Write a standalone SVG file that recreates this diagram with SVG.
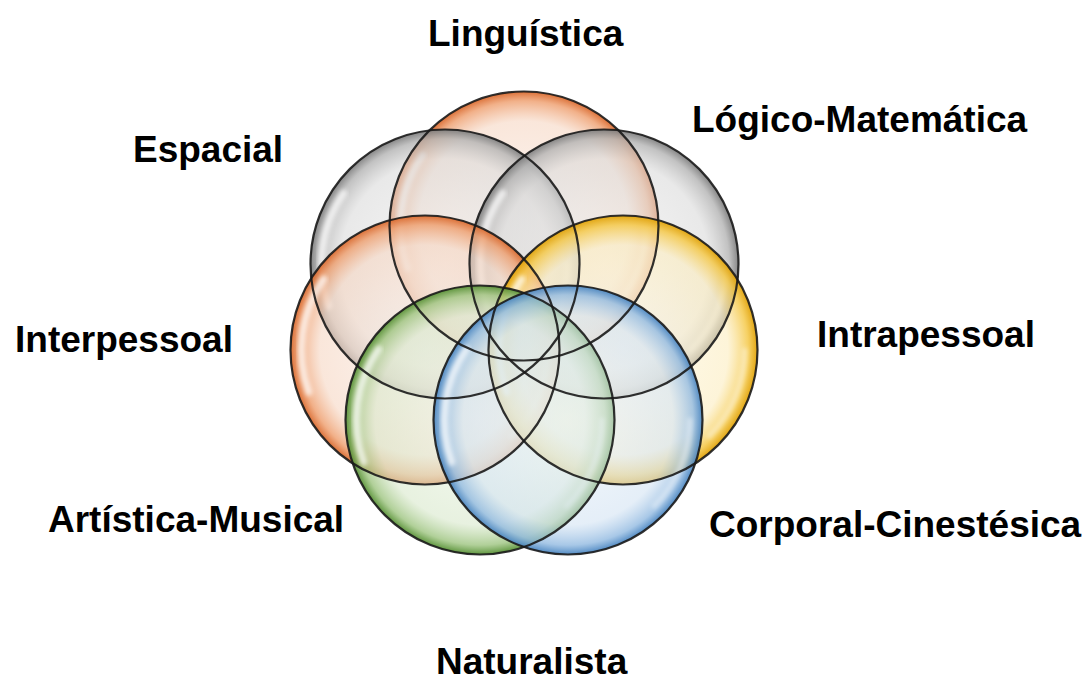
<svg xmlns="http://www.w3.org/2000/svg" width="1088" height="680" viewBox="0 0 1088 680">
  <style>
    .lbl { font-family: "Liberation Sans", Arial, sans-serif; font-weight: bold; font-size: 37px; fill: #000; }
    .ring { stroke: none; }
    .edge { fill: none; stroke: #1a1a1a; stroke-width: 2.2; stroke-opacity: 0.9; }
    .hl { fill: none; stroke: #ffffff; stroke-linecap: round; filter: url(#blur); }
    .hl1 { stroke-width: 7; stroke-opacity: 0.7; }
    .hl2 { stroke-width: 5; stroke-opacity: 0.45; }
  </style>
  <defs>
    <filter id="blur" x="-20%" y="-20%" width="140%" height="140%">
      <feGaussianBlur stdDeviation="2"/>
    </filter>
    <radialGradient id="gOrange" cx="0.5" cy="0.5" r="0.5">
      <stop offset="0" stop-color="#FBEEE6" stop-opacity="0.55"/>
      <stop offset="0.78" stop-color="#F6D6C2" stop-opacity="0.6"/>
      <stop offset="0.93" stop-color="#EE9D6C" stop-opacity="0.8"/>
      <stop offset="1" stop-color="#D9682C" stop-opacity="0.95"/>
    </radialGradient>
    <radialGradient id="gGray" cx="0.5" cy="0.5" r="0.5">
      <stop offset="0" stop-color="#EFEFEF" stop-opacity="0.55"/>
      <stop offset="0.78" stop-color="#DADADA" stop-opacity="0.6"/>
      <stop offset="0.93" stop-color="#B3B3B3" stop-opacity="0.8"/>
      <stop offset="1" stop-color="#7E7E7E" stop-opacity="0.95"/>
    </radialGradient>
    <radialGradient id="gYellow" cx="0.5" cy="0.5" r="0.5">
      <stop offset="0" stop-color="#FFF7E2" stop-opacity="0.55"/>
      <stop offset="0.78" stop-color="#FCEDBF" stop-opacity="0.6"/>
      <stop offset="0.93" stop-color="#F5C94A" stop-opacity="0.85"/>
      <stop offset="1" stop-color="#E0A106" stop-opacity="0.95"/>
    </radialGradient>
    <radialGradient id="gGreen" cx="0.5" cy="0.5" r="0.5">
      <stop offset="0" stop-color="#EFF6E9" stop-opacity="0.55"/>
      <stop offset="0.78" stop-color="#D8E8CB" stop-opacity="0.6"/>
      <stop offset="0.93" stop-color="#9DC47F" stop-opacity="0.8"/>
      <stop offset="1" stop-color="#558F33" stop-opacity="0.95"/>
    </radialGradient>
    <radialGradient id="gBlue" cx="0.5" cy="0.5" r="0.5">
      <stop offset="0" stop-color="#ECF3FA" stop-opacity="0.55"/>
      <stop offset="0.78" stop-color="#D3E3F3" stop-opacity="0.6"/>
      <stop offset="0.93" stop-color="#92BAE1" stop-opacity="0.8"/>
      <stop offset="1" stop-color="#4884C0" stop-opacity="0.95"/>
    </radialGradient>
    <path id="hlA" d="M -116.2 42.3 A 123.7 123.7 0 0 1 -101.3 -70.9"/>
    <path id="hlB" d="M 122 0 A 122 122 0 0 1 86.3 86.3"/>
  </defs>

  <g id="circles">
    <g id="c-linguistica">
      <circle class="ring" cx="524" cy="226" r="134.5" fill="url(#gOrange)"/>
      <use href="#hlA" class="hl hl1" transform="translate(524 226)"/>
      <use href="#hlB" class="hl hl2" transform="translate(524 226)"/>
    </g>
    <g id="c-espacial">
      <circle class="ring" cx="445" cy="264" r="134.5" fill="url(#gGray)"/>
      <use href="#hlA" class="hl hl1" transform="translate(445 264)"/>
      <use href="#hlB" class="hl hl2" transform="translate(445 264)"/>
    </g>
    <g id="c-logico">
      <circle class="ring" cx="604" cy="264" r="134.5" fill="url(#gGray)"/>
      <use href="#hlA" class="hl hl1" transform="translate(604 264)"/>
      <use href="#hlB" class="hl hl2" transform="translate(604 264)"/>
    </g>
    <g id="c-interpessoal">
      <circle class="ring" cx="425" cy="350" r="134.5" fill="url(#gOrange)"/>
      <use href="#hlA" class="hl hl1" transform="translate(425 350)"/>
      <use href="#hlB" class="hl hl2" transform="translate(425 350)"/>
    </g>
    <g id="c-intrapessoal">
      <circle class="ring" cx="623" cy="350" r="134.5" fill="url(#gYellow)"/>
      <use href="#hlA" class="hl hl1" transform="translate(623 350)"/>
      <use href="#hlB" class="hl hl2" transform="translate(623 350)"/>
    </g>
    <g id="c-artistica">
      <circle class="ring" cx="480" cy="420" r="134.5" fill="url(#gGreen)"/>
      <use href="#hlA" class="hl hl1" transform="translate(480 420)"/>
      <use href="#hlB" class="hl hl2" transform="translate(480 420)"/>
    </g>
    <g id="c-corporal">
      <circle class="ring" cx="568" cy="420" r="134.5" fill="url(#gBlue)"/>
      <use href="#hlA" class="hl hl1" transform="translate(568 420)"/>
      <use href="#hlB" class="hl hl2" transform="translate(568 420)"/>
    </g>
  </g>

  <g id="outlines">
    <circle class="edge" cx="524" cy="226" r="134.5"/>
    <circle class="edge" cx="445" cy="264" r="134.5"/>
    <circle class="edge" cx="604" cy="264" r="134.5"/>
    <circle class="edge" cx="425" cy="350" r="134.5"/>
    <circle class="edge" cx="623" cy="350" r="134.5"/>
    <circle class="edge" cx="480" cy="420" r="134.5"/>
    <circle class="edge" cx="568" cy="420" r="134.5"/>
  </g>

  <g id="connectors"/>

  <g id="labels">
    <text id="t-linguistica" class="lbl" x="428" y="46">Linguística</text>
    <text id="t-logico" class="lbl" x="692" y="132">Lógico-Matemática</text>
    <text id="t-espacial" class="lbl" x="133" y="162">Espacial</text>
    <text id="t-interpessoal" class="lbl" x="15" y="352">Interpessoal</text>
    <text id="t-intrapessoal" class="lbl" x="817" y="347">Intrapessoal</text>
    <text id="t-artistica" class="lbl" x="48" y="532">Artística-Musical</text>
    <text id="t-corporal" class="lbl" x="709" y="537">Corporal-Cinestésica</text>
    <text id="t-naturalista" class="lbl" x="436" y="674">Naturalista</text>
  </g>
</svg>
